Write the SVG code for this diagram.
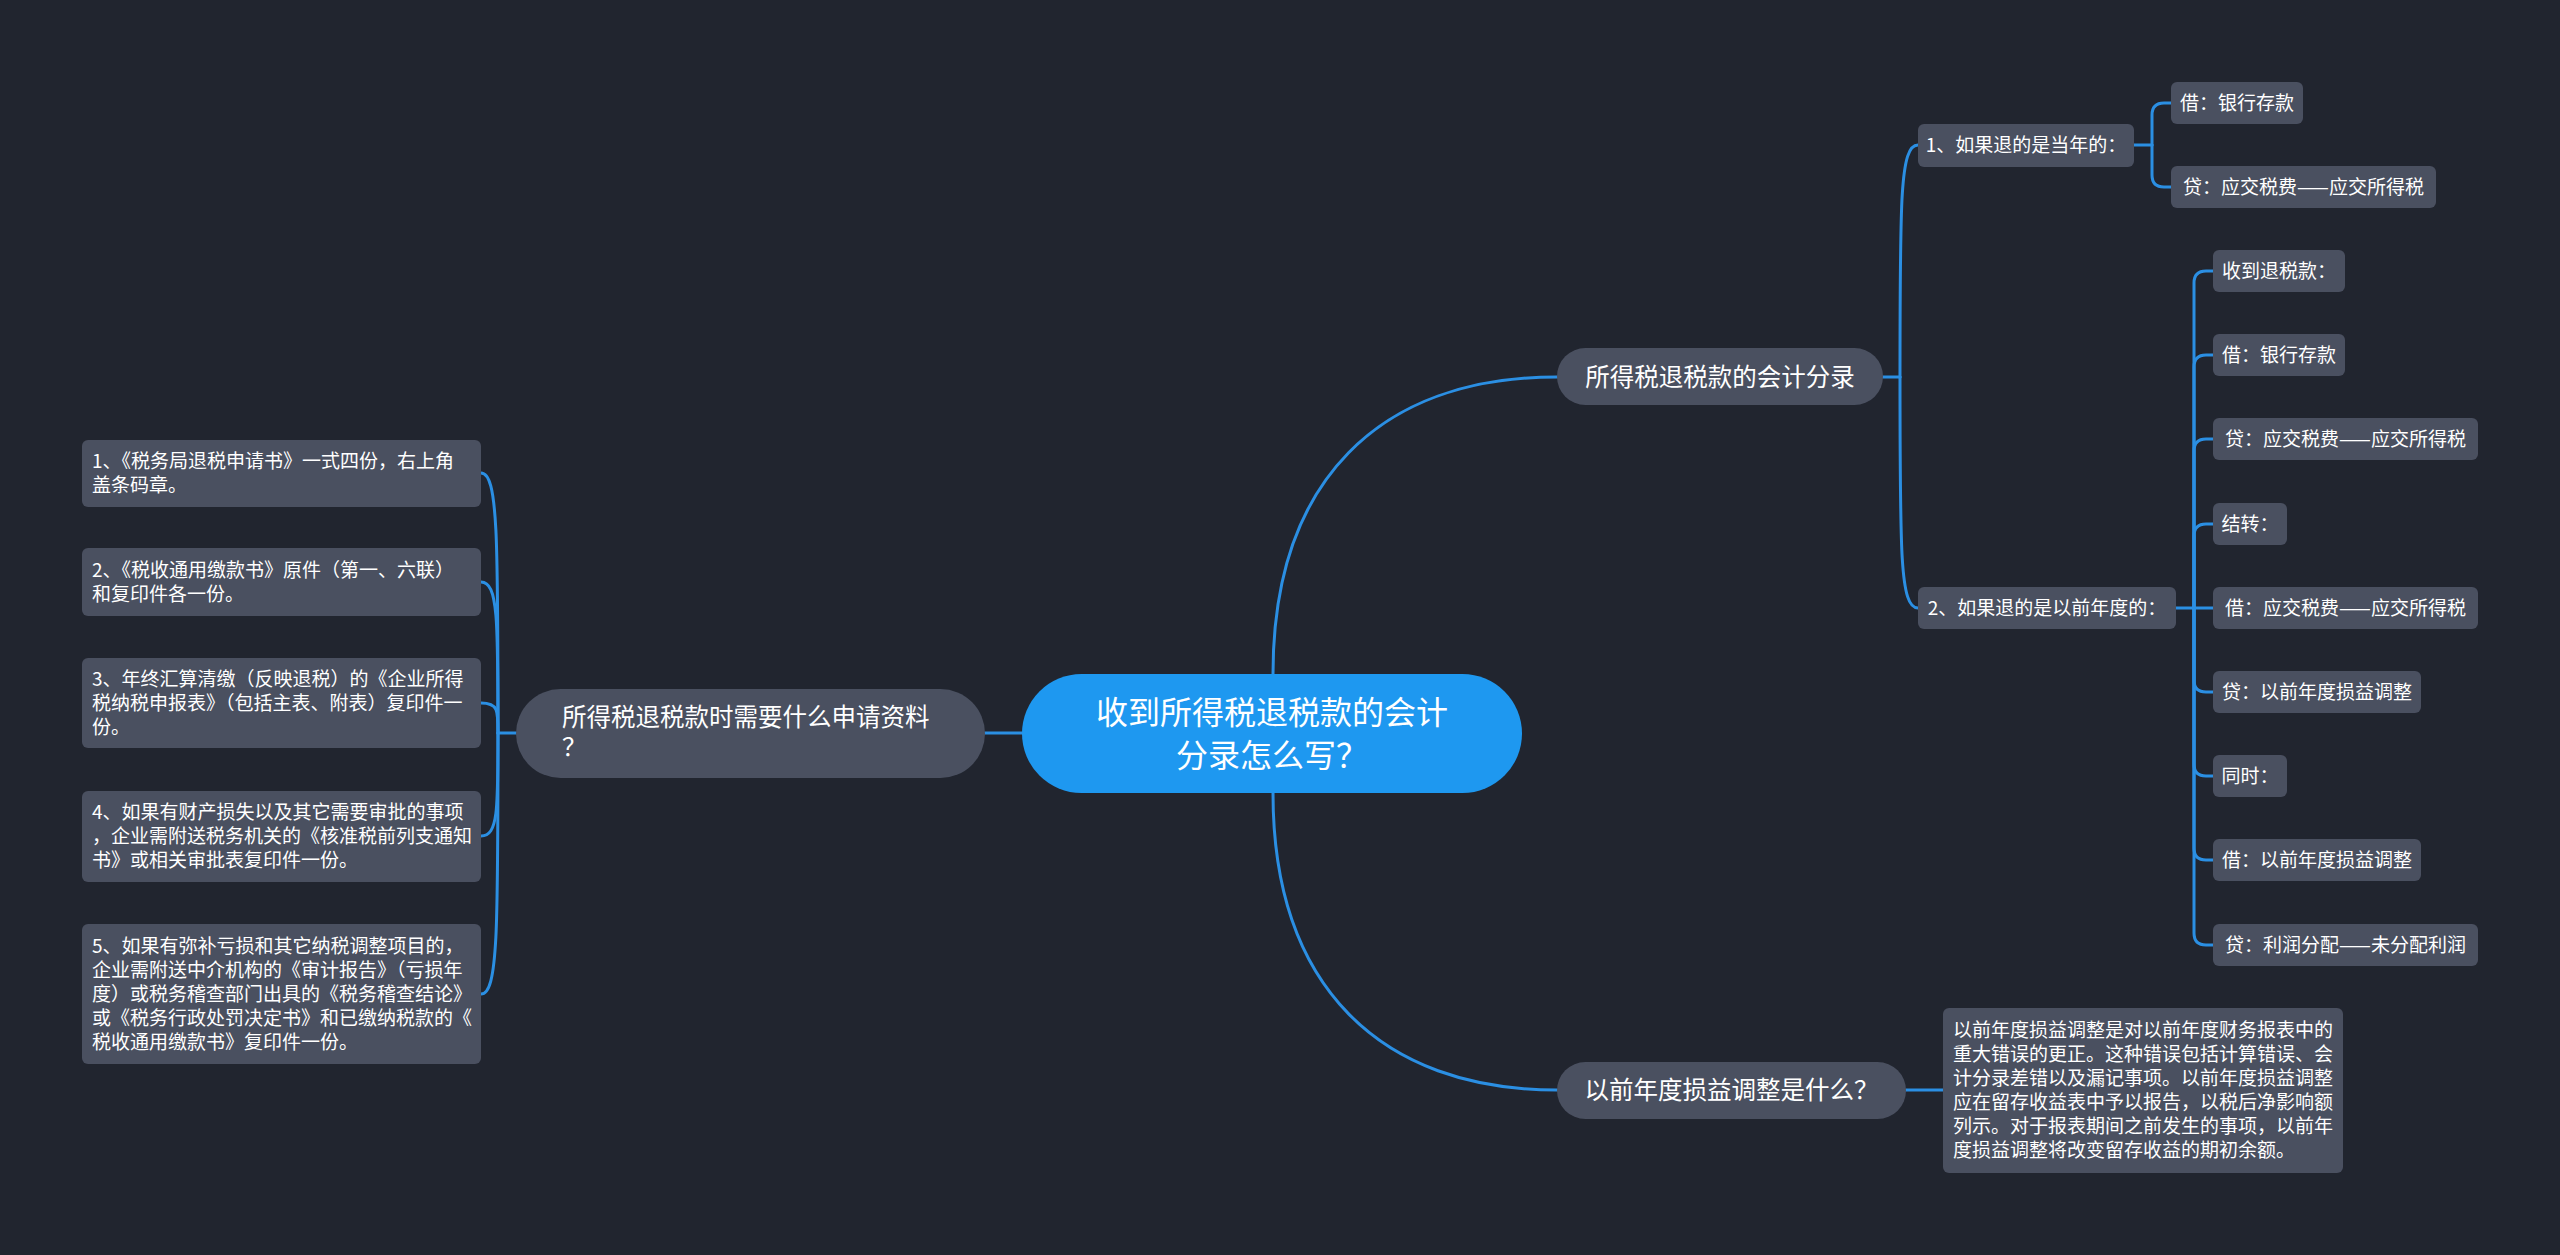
<svg xmlns="http://www.w3.org/2000/svg" width="2560" height="1255" viewBox="0 0 2560 1255">
<style>
text{font-family:"Noto Sans CJK SC","Noto Sans",sans-serif;fill:#FFFFFF}
.root{fill:#1E98F0}
.main{fill:#4A5060}
.leaf{fill:#4A5060}
.t32{font-size:32px}
.t24{font-size:24.5px}
.t19{font-size:19px}
.mid{text-anchor:middle}
.lines path{fill:none;stroke:#2B8FE3;stroke-width:3;stroke-linecap:round}
</style>
<rect width="2560" height="1255" fill="#21252F"/>
<g class="lines" id="connectors">
<path d="M1273,674 C1273,480 1380,377 1557,377"/>
<path d="M1273,793 C1273,986 1380,1090 1557,1090"/>
<path d="M1022,733 L985,733"/>
<path d="M1883,377 L1900,377"/>
<path d="M1900,377 C1900,200 1900,145 1918,145"/>
<path d="M1900,377 C1900,553 1900,608 1918,608"/>
<path d="M2134,145 L2152,145"/>
<path d="M2152,145 L2152,115 Q2152,103 2164,103 L2171,103"/>
<path d="M2152,145 L2152,175 Q2152,187 2164,187 L2171,187"/>
<path d="M2176,608 L2194,608"/>
<path d="M2194,608 L2194,283 Q2194,271 2206,271 L2213,271"/>
<path d="M2194,608 L2194,367 Q2194,355 2206,355 L2213,355"/>
<path d="M2194,608 L2194,451 Q2194,439 2206,439 L2213,439"/>
<path d="M2194,608 L2194,536 Q2194,524 2206,524 L2213,524"/>
<path d="M2194,608 L2213,608"/>
<path d="M2194,608 L2194,680 Q2194,692 2206,692 L2213,692"/>
<path d="M2194,608 L2194,764 Q2194,776 2206,776 L2213,776"/>
<path d="M2194,608 L2194,848 Q2194,860 2206,860 L2213,860"/>
<path d="M2194,608 L2194,933 Q2194,945 2206,945 L2213,945"/>
<path d="M1906,1090 L1943,1090"/>
<path d="M516,733 L498,733"/>
<path d="M498,733 C498,538 498,473 481,473"/>
<path d="M498,733 C498,620 498,582 481,582"/>
<path d="M498,733 C498,710 498,703 481,703"/>
<path d="M498,733 C498,810 498,836 481,836"/>
<path d="M498,733 C498,929 498,994 481,994"/>
</g>
<g id="root">
<rect class="root" x="1022" y="674" width="500" height="119" rx="59.5"/>
<text class="t32 mid" x="1272" y="724">收到所得税退税款的会计</text>
<text class="t32 mid" x="1272" y="767">分录怎么写？</text>
</g>
<g id="branch1">
<rect class="main" x="1557" y="348" width="326" height="57" rx="28.5"/>
<text class="t24 mid" x="1720" y="386">所得税退税款的会计分录</text>
</g>
<g id="branch2">
<rect class="main" x="516" y="689" width="469" height="89" rx="44.5"/>
<text class="t24" x="562" y="726">所得税退税款时需要什么申请资料</text>
<text class="t24" x="562" y="756">？</text>
</g>
<g id="branch3">
<rect class="main" x="1557" y="1062" width="349" height="57" rx="28.5"/>
<text class="t24 mid" x="1731.5" y="1099">以前年度损益调整是什么？</text>
</g>
<g id="sub1">
<rect class="leaf" x="1918" y="124" width="216" height="43" rx="6"/>
<text class="t19 mid" x="2026" y="152">1、如果退的是当年的：</text>
</g>
<g id="sub1-c1">
<rect class="leaf" x="2171" y="82" width="132" height="42" rx="6"/>
<text class="t19 mid" x="2237" y="110">借：银行存款</text>
</g>
<g id="sub1-c2">
<rect class="leaf" x="2171" y="166" width="265" height="42" rx="6"/>
<text class="t19 mid" x="2303.5" y="194">贷：应交税费——应交所得税</text>
</g>
<g id="sub2">
<rect class="leaf" x="1918" y="587" width="258" height="42" rx="6"/>
<text class="t19 mid" x="2047" y="615">2、如果退的是以前年度的：</text>
</g>
<g id="sub2-c1">
<rect class="leaf" x="2213" y="250" width="132" height="42" rx="6"/>
<text class="t19 mid" x="2279" y="278">收到退税款：</text>
</g>
<g id="sub2-c2">
<rect class="leaf" x="2213" y="334" width="132" height="42" rx="6"/>
<text class="t19 mid" x="2279" y="362">借：银行存款</text>
</g>
<g id="sub2-c3">
<rect class="leaf" x="2213" y="418" width="265" height="42" rx="6"/>
<text class="t19 mid" x="2345.5" y="446">贷：应交税费——应交所得税</text>
</g>
<g id="sub2-c4">
<rect class="leaf" x="2213" y="503" width="74" height="42" rx="6"/>
<text class="t19 mid" x="2250" y="531">结转：</text>
</g>
<g id="sub2-c5">
<rect class="leaf" x="2213" y="587" width="265" height="42" rx="6"/>
<text class="t19 mid" x="2345.5" y="615">借：应交税费——应交所得税</text>
</g>
<g id="sub2-c6">
<rect class="leaf" x="2213" y="671" width="208" height="42" rx="6"/>
<text class="t19 mid" x="2317" y="699">贷：以前年度损益调整</text>
</g>
<g id="sub2-c7">
<rect class="leaf" x="2213" y="755" width="74" height="42" rx="6"/>
<text class="t19 mid" x="2250" y="783">同时：</text>
</g>
<g id="sub2-c8">
<rect class="leaf" x="2213" y="839" width="208" height="42" rx="6"/>
<text class="t19 mid" x="2317" y="867">借：以前年度损益调整</text>
</g>
<g id="sub2-c9">
<rect class="leaf" x="2213" y="924" width="265" height="42" rx="6"/>
<text class="t19 mid" x="2345.5" y="952">贷：利润分配——未分配利润</text>
</g>
<g id="b3-detail">
<rect class="leaf" x="1943" y="1008" width="400" height="165" rx="6"/>
<text class="t19" x="1953" y="1037.3">以前年度损益调整是对以前年度财务报表中的</text>
<text class="t19" x="1953" y="1061.3">重大错误的更正。这种错误包括计算错误、会</text>
<text class="t19" x="1953" y="1085.3">计分录差错以及漏记事项。以前年度损益调整</text>
<text class="t19" x="1953" y="1109.3">应在留存收益表中予以报告，以税后净影响额</text>
<text class="t19" x="1953" y="1133.3">列示。对于报表期间之前发生的事项，以前年</text>
<text class="t19" x="1953" y="1157.3">度损益调整将改变留存收益的期初余额。</text>
</g>
<g id="left1">
<rect class="leaf" x="82" y="440" width="399" height="67" rx="6"/>
<text class="t19" x="92" y="468.3">1、《税务局退税申请书》一式四份，右上角</text>
<text class="t19" x="92" y="492.3">盖条码章。</text>
</g>
<g id="left2">
<rect class="leaf" x="82" y="548" width="399" height="68" rx="6"/>
<text class="t19" x="92" y="576.8">2、《税收通用缴款书》原件（第一、六联）</text>
<text class="t19" x="92" y="600.8">和复印件各一份。</text>
</g>
<g id="left3">
<rect class="leaf" x="82" y="658" width="399" height="90" rx="6"/>
<text class="t19" x="92" y="685.8">3、年终汇算清缴（反映退税）的《企业所得</text>
<text class="t19" x="92" y="709.8">税纳税申报表》（包括主表、附表）复印件一</text>
<text class="t19" x="92" y="733.8">份。</text>
</g>
<g id="left4">
<rect class="leaf" x="82" y="791" width="399" height="91" rx="6"/>
<text class="t19" x="92" y="819.3">4、如果有财产损失以及其它需要审批的事项</text>
<text class="t19" x="92" y="843.3">，企业需附送税务机关的《核准税前列支通知</text>
<text class="t19" x="92" y="867.3">书》或相关审批表复印件一份。</text>
</g>
<g id="left5">
<rect class="leaf" x="82" y="924" width="399" height="140" rx="6"/>
<text class="t19" x="92" y="952.8">5、如果有弥补亏损和其它纳税调整项目的，</text>
<text class="t19" x="92" y="976.8">企业需附送中介机构的《审计报告》（亏损年</text>
<text class="t19" x="92" y="1000.8">度）或税务稽查部门出具的《税务稽查结论》</text>
<text class="t19" x="92" y="1024.8">或《税务行政处罚决定书》和已缴纳税款的《</text>
<text class="t19" x="92" y="1048.8">税收通用缴款书》复印件一份。</text>
</g>
</svg>
